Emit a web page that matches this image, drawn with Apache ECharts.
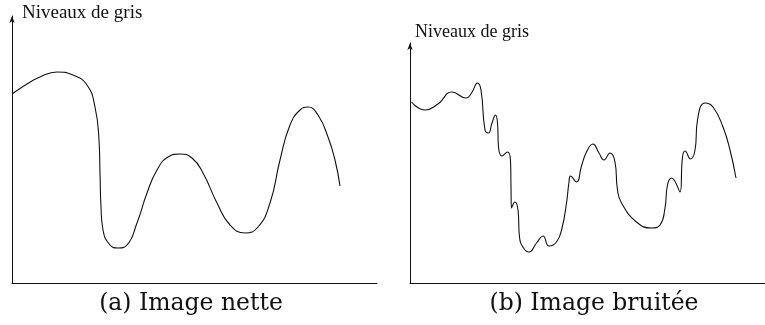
<!DOCTYPE html>
<html>
<head>
<meta charset="utf-8">
<script src="https://cdn.jsdelivr.net/npm/echarts@6/dist/echarts.min.js"></script>
<style>
    html, body { margin: 0; padding: 0; background: #fff; }
    #chart { width: 765px; height: 325px; }
</style>
</head>
<body>
<div id="chart"></div>
<script>
// (a) image nette : position / niveau de gris
var posA = [0, 15, 28, 45, 61, 75, 83, 87, 88, 89, 91, 98, 106, 115, 125, 135, 145, 156, 168, 180, 191, 205, 218, 233, 246, 258, 268, 278, 288, 296, 306, 316, 323, 328]
var grisA = [189, 199, 206, 211, 208, 198, 176, 143, 110, 76, 53, 38, 35, 38, 60, 90, 113, 126, 129, 125, 110, 80, 58, 50, 56, 80, 123, 158, 173, 176, 168, 146, 123, 97]

// (b) image bruitee
var posB = [1.5, 15, 28, 42, 56, 61.5, 67.5, 71, 75, 78.5, 82, 85.5, 87.5, 88.5, 92, 97.5, 100.5, 101, 101.5, 105, 108, 109.5, 113.5, 119, 126.5, 133, 139, 146.5, 152, 156.5, 159, 160.5, 166.5, 171.5, 176.5, 183, 189, 194, 200, 205, 207.5, 211.5, 226.5, 241.5, 250, 255, 257.5, 261.5, 270, 272.5, 275, 280.5, 285, 287.5, 295, 303, 313, 320, 326]
var grisB = [181, 173, 179, 191, 185, 190, 200, 193, 153, 150, 160, 168, 160, 136, 127, 131, 122, 96, 75, 81, 73, 46, 35, 31, 40, 47, 37, 41, 55, 80, 101, 107, 101, 117, 131, 139, 130, 123, 130, 121, 93, 80, 61, 55, 58, 75, 98, 105, 91, 126, 132, 124, 133, 163, 180, 176, 156, 133, 105]

var axisLabelY = 'Niveaux de gris'
var captions = ['(a) Image nette', '(b) Image bruitée']

function pairs (xs, ys) {
    return xs.map(function (x, i) { return [x, ys[i]] })
}

var chart = echarts.init(document.getElementById('chart'), null, { renderer: 'canvas' })

var axisStyle = { color: '#111', width: 1 }
function xAx (idx, max) {
    return {
        gridIndex: idx, type: 'value', min: 0, max: max,
        axisLine: { show: true, lineStyle: axisStyle },
        axisTick: { show: false }, axisLabel: { show: false }, splitLine: { show: false }
    }
}
function yAx (idx, max) {
    return {
        gridIndex: idx, type: 'value', min: 0, max: max,
        axisLine: { show: true, symbol: ['none', 'arrow'], symbolSize: [4, 7], lineStyle: axisStyle },
        axisTick: { show: false }, axisLabel: { show: false }, splitLine: { show: false }
    }
}
function curve (idx, data) {
    return {
        type: 'line', xAxisIndex: idx, yAxisIndex: idx,
        data: data, smooth: 0.5,
        symbol: 'none', lineStyle: { color: '#111', width: 1.1 },
        silent: true, animation: false
    }
}

var option = {
    animation: false,
    grid: [
        { left: 12, top: 16, width: 365, height: 267 },
        { left: 410, top: 43, width: 355, height: 240 }
    ],
    xAxis: [xAx(0, 365), xAx(1, 355)],
    yAxis: [yAx(0, 267), yAx(1, 240)],
    series: [curve(0, pairs(posA, grisA)), curve(1, pairs(posB, grisB))],
    graphic: [
        { type: 'text', left: 22, top: 4, style: { text: axisLabelY, fontFamily: 'Liberation Serif', fontSize: 19, fill: '#111' } },
        { type: 'text', left: 415, top: 23, style: { text: axisLabelY, fontFamily: 'Liberation Serif', fontSize: 18, fill: '#111' } },
        { type: 'text', x: 191, y: 304, style: { text: captions[0], fontFamily: 'DejaVu Serif', fontSize: 23.5, fill: '#111', align: 'center', verticalAlign: 'middle' } },
        { type: 'text', x: 594, y: 304, style: { text: captions[1], fontFamily: 'DejaVu Serif', fontSize: 23.5, fill: '#111', align: 'center', verticalAlign: 'middle' } }
    ]
}
chart.setOption(option)
</script>
</body>
</html>
